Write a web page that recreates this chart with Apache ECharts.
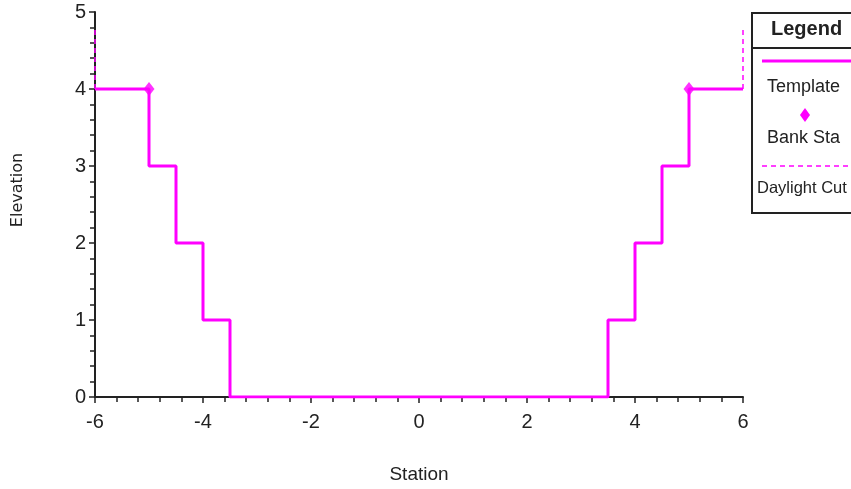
<!DOCTYPE html>
<html>
<head>
<meta charset="utf-8">
<script src="https://cdn.jsdelivr.net/npm/echarts@6/dist/echarts.min.js"></script>
<style>
  html, body { margin: 0; padding: 0; background: #fff; }
  #chart { width: 851px; height: 489px; }
</style>
</head>
<body>
<div id="chart"></div>
<script>
// Channel cross-section: stepped template, bank stations and daylight cut lines
const templateStation = [-6, -5, -5, -4.5, -4.5, -4, -4, -3.5, -3.5, 3.5, 3.5, 4, 4, 4.5, 4.5, 5, 5, 6];
const templateElev    = [ 4,  4,  3,  3,    2,    2,  1,  1,    0,   0,   1,  1, 2, 2,   3,   3, 4, 4];
const bankStation = [-5, 5];
const bankElev    = [4, 4];
const daylightLeftStation  = [-6, -6];
const daylightLeftElev     = [4, 4.8];
const daylightRightStation = [6, 6];
const daylightRightElev    = [4, 4.8];

const zip = (xs, ys) => xs.map((x, i) => [x, ys[i]]);

const FONT = '"Liberation Sans Narrow", "Liberation Sans", Arial, sans-serif';
const MAGENTA = '#ff00ff';
const INK = '#222';

const chart = echarts.init(document.getElementById('chart'), null, { renderer: 'canvas' });

chart.setOption({
  backgroundColor: '#fff',
  animation: false,
  grid: { left: 95, right: 108, top: 12, bottom: 91 },
  xAxis: {
    type: 'value', min: -6, max: 6, interval: 2,
    name: 'Station', nameLocation: 'middle', nameGap: 68,
    nameTextStyle: { fontFamily: FONT, fontSize: 19, color: INK },
    axisLine: { show: true, onZero: false, lineStyle: { color: INK, width: 2 } },
    axisTick: { show: true, length: 6, lineStyle: { color: INK, width: 1.5 } },
    minorTick: { show: true, splitNumber: 5, length: 5, lineStyle: { color: INK, width: 1.5 } },
    axisLabel: { fontFamily: FONT, fontSize: 20, color: INK, margin: 15 },
    splitLine: { show: false }
  },
  yAxis: {
    type: 'value', min: 0, max: 5, interval: 1,
    axisLine: { show: true, onZero: false, lineStyle: { color: INK, width: 2 } },
    axisTick: { show: true, length: 6, lineStyle: { color: INK, width: 1.5 } },
    minorTick: { show: true, splitNumber: 5, length: 5, lineStyle: { color: INK, width: 1.5 } },
    axisLabel: { fontFamily: FONT, fontSize: 20, color: INK, margin: 9 },
    splitLine: { show: false }
  },
  series: [
    {
      name: 'Daylight Cut', type: 'line', data: zip(daylightLeftStation, daylightLeftElev),
      symbol: 'none', lineStyle: { color: MAGENTA, width: 1.5, type: [5, 4] }, z: 2
    },
    {
      name: 'Daylight Cut', type: 'line', data: zip(daylightRightStation, daylightRightElev),
      symbol: 'none', lineStyle: { color: MAGENTA, width: 1.5, type: [5, 4] }, z: 2
    },
    {
      name: 'Template', type: 'line', data: zip(templateStation, templateElev),
      symbol: 'none', lineStyle: { color: MAGENTA, width: 3 }, z: 3
    },
    {
      name: 'Bank Sta', type: 'scatter', data: zip(bankStation, bankElev),
      symbol: 'diamond', symbolSize: [11, 14], itemStyle: { color: MAGENTA }, z: 4
    }
  ],
  graphic: [
    // vertical axis title
    { type: 'text', x: 18, y: 190, rotation: Math.PI / 2,
      style: { text: 'Elevation', fontFamily: '"DejaVu Sans", sans-serif', fontSize: 16,
               fill: INK, align: 'center', verticalAlign: 'middle' } },
    // legend box
    { type: 'rect', shape: { x: 752, y: 13, width: 120, height: 200 },
      style: { fill: '#fff', stroke: INK, lineWidth: 2 } },
    { type: 'line', shape: { x1: 752, y1: 48, x2: 851, y2: 48 },
      style: { stroke: INK, lineWidth: 2 } },
    { type: 'text', left: 771, top: 19,
      style: { text: 'Legend', fontFamily: FONT, fontSize: 20, fontWeight: 'bold', fill: INK } },
    { type: 'line', shape: { x1: 762, y1: 61, x2: 851, y2: 61 },
      style: { stroke: MAGENTA, lineWidth: 3 } },
    { type: 'text', left: 767, top: 78,
      style: { text: 'Template', fontFamily: FONT, fontSize: 18, fill: INK } },
    { type: 'polygon', shape: { points: [[805, 108], [810, 115], [805, 122], [800, 115]] },
      style: { fill: MAGENTA } },
    { type: 'text', left: 767, top: 129,
      style: { text: 'Bank Sta', fontFamily: FONT, fontSize: 18, fill: INK } },
    { type: 'line', shape: { x1: 762, y1: 166, x2: 851, y2: 166 },
      style: { stroke: MAGENTA, lineWidth: 1.5, lineDash: [5, 4] } },
    { type: 'text', left: 757, top: 180,
      style: { text: 'Daylight Cut', fontFamily: FONT, fontSize: 16.5, fill: INK } }
  ]
});
</script>
</body>
</html>
